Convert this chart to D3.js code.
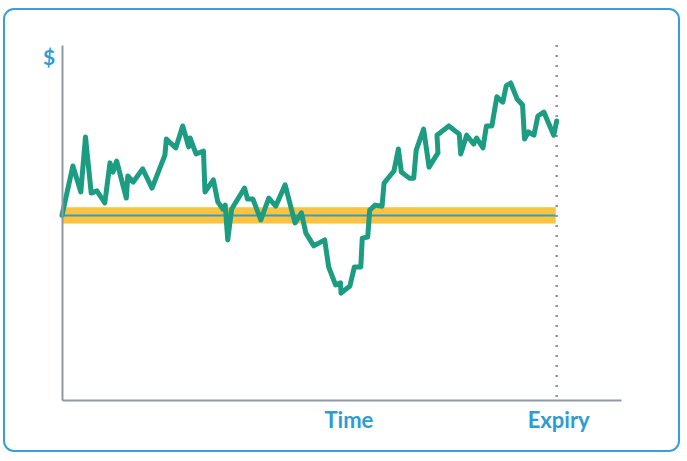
<!DOCTYPE html>
<html>
<head>
<meta charset="utf-8">
<script src="https://cdn.jsdelivr.net/npm/d3@7"></script>
<style>
  body { margin: 0; background: #fff; }
  svg { display: block; }
  .lbl { font-family: Lato, "Open Sans", sans-serif; font-weight: 700; fill: #2e9bd3; }
</style>
</head>
<body>
<script>
// time runs 0..100 (100 = expiry), price in arbitrary $ units
var times = [0, 2.2, 3.8, 4.75, 5.9, 7.05, 8.65, 9.7, 10.3, 11.05, 13.0, 13.3, 14.4, 16.3, 18.2,
  20.8, 21.1, 23.0, 24.4, 25.6, 25.9, 27.1, 28.6, 28.9, 30.6, 31.5, 32.5, 33.0, 33.5, 34.3,
  36.9, 37.5, 38.6, 40.2, 41.8, 43.2, 45.1, 47.1, 48.4, 49.3, 50.9, 53.1, 53.9, 55.3, 56.3,
  56.4, 58.2, 59.1, 60.4, 60.7, 61.8, 62.2, 63.3, 64.7, 65.1, 67.1, 68.0, 68.6, 70.2, 71.1,
  71.6, 73.1, 74.2, 76.0, 75.8, 78.2, 80.3, 80.6, 81.8, 83.2, 83.8, 85.1, 85.8, 86.9, 87.9,
  89.1, 89.8, 90.7, 92.0, 93.1, 93.5, 94.3, 95.4, 96.2, 97.4, 99.4, 100];
var prices = [52, 65.9, 58.6, 74.1, 58.3, 58.9, 55.5, 66.8, 64.2, 67.3, 56.9, 63.1, 61.4, 65.1, 59.7,
  69.0, 73.5, 71.0, 77.2, 71.3, 73.8, 69.3, 70.1, 58.6, 62.0, 55.8, 53.8, 54.9, 45.1, 53.8,
  59.7, 56.6, 56.6, 50.7, 56.9, 54.6, 60.6, 49.9, 52.7, 47.0, 43.4, 45.1, 37.5, 32.4, 33.0,
  30.1, 32.1, 37.5, 37.5, 45.6, 45.9, 53.5, 54.9, 54.6, 61.1, 64.5, 70.7, 64.2, 62.5, 62.5,
  70.4, 76.3, 65.6, 69.6, 74.6, 77.2, 74.9, 69.3, 74.6, 72.1, 73.8, 71.0, 77.2, 77.2, 85.4,
  83.9, 88.5, 89.3, 84.8, 83.1, 73.5, 75.5, 74.6, 80.0, 81.1, 74.6, 78.6];
var strike = 52;
var bandHalf = 2.3;
var expiry = 100;
var xLabels = ["Time", "Expiry"];
var yLabel = "$";

var W = 687, H = 461;
var svg = d3.select("body").append("svg").attr("width", W).attr("height", H);

// frame
svg.append("rect")
  .attr("x", 4).attr("y", 9).attr("width", 675).attr("height", 442)
  .attr("rx", 10)
  .attr("fill", "none").attr("stroke", "#3a9fd8").attr("stroke-width", 2);

var x = d3.scaleLinear().domain([0, 113]).range([62, 621]);
var y = d3.scaleLinear().domain([0, 100]).range([400, 45]);

// strike band
svg.append("rect")
  .attr("x", x(0)).attr("y", y(strike + bandHalf))
  .attr("width", x(expiry) - x(0) - 1)
  .attr("height", y(strike - bandHalf) - y(strike + bandHalf))
  .attr("fill", "#fbc342");

svg.append("line")
  .attr("x1", x(0)).attr("x2", x(expiry) - 1)
  .attr("y1", y(strike)).attr("y2", y(strike))
  .attr("stroke", "#3a9bbd").attr("stroke-width", 2);

// expiry dotted line
svg.append("line")
  .attr("x1", x(expiry)).attr("x2", x(expiry))
  .attr("y1", y(100)).attr("y2", y(0))
  .attr("stroke", "#8e98a3").attr("stroke-width", 2.5)
  .attr("stroke-dasharray", "2,8");

// price path
var line = d3.line()
  .x(function (d, i) { return x(times[i]); })
  .y(function (d) { return y(d); });

svg.append("path")
  .datum(prices)
  .attr("d", line)
  .attr("fill", "none")
  .attr("stroke", "#1c9d82")
  .attr("stroke-width", 5)
  .attr("stroke-linejoin", "round")
  .attr("stroke-linecap", "round");

// axes
svg.append("g")
  .attr("transform", "translate(0," + y(0) + ")")
  .call(d3.axisBottom(x).tickValues([]).tickSizeOuter(0));
svg.append("g")
  .attr("transform", "translate(" + x(0) + ",0)")
  .call(d3.axisLeft(y).tickValues([]).tickSizeOuter(0));
svg.selectAll(".domain").attr("stroke", "#8d99a6").attr("stroke-width", 2);

// labels
svg.append("text").attr("class", "lbl")
  .attr("x", 49).attr("y", 65).attr("text-anchor", "middle")
  .style("font-size", "21px").text(yLabel);

svg.append("text").attr("class", "lbl")
  .attr("x", x(58)).attr("y", 428).attr("text-anchor", "middle")
  .style("font-size", "22px").text(xLabels[0]);

svg.append("text").attr("class", "lbl")
  .attr("x", x(expiry) + 2).attr("y", 428).attr("text-anchor", "middle")
  .style("font-size", "22px").text(xLabels[1]);
</script>
</body>
</html>
